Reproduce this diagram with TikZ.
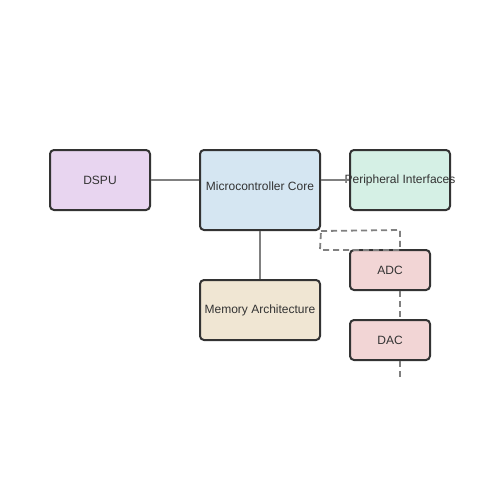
\documentclass[tikz,border=0pt]{standalone}
\usepackage{fontspec}
\setmainfont{Liberation Sans}
\begin{document}
\begin{tikzpicture}[x=1pt,y=-1pt,
  box/.style={draw=boxline,line width=2pt,rounded corners=4pt,inner sep=0pt,
    text=txt,font=\fontsize{12}{14}\selectfont},
  link/.style={draw=linkc,line width=1.8pt},
  dlink/.style={draw=linkc,line width=1.8pt,dash pattern=on 6pt off 4pt}]
\definecolor{boxline}{HTML}{333333}
\definecolor{txt}{HTML}{333333}
\definecolor{linkc}{HTML}{808080}
\definecolor{cdspu}{HTML}{E8D5F0}
\definecolor{ccore}{HTML}{D5E6F2}
\definecolor{cperi}{HTML}{D5F0E5}
\definecolor{cmem}{HTML}{F0E6D3}
\definecolor{cadc}{HTML}{F2D5D5}
\useasboundingbox[fill=white] (0,0) rectangle (500,500);
\coordinate (j1) at (400,230);
\coordinate (j2) at (320,250);
\coordinate (j3) at (400,250);
\coordinate (endp) at (400,380);
\node[box,fill=cdspu,minimum width=100pt,minimum height=60pt] (dspu) at (100,180) {DSPU};
\node[box,fill=ccore,minimum width=120pt,minimum height=80pt] (core) at (260,190) {};
\node[text=txt,font=\fontsize{12}{14}\selectfont,inner sep=0pt] (coretext) at (260,186) {Microcontroller Core};
\node[box,fill=cmem,minimum width=120pt,minimum height=60pt] (mem) at (260,310) {Memory Architecture};
\node[box,fill=cadc,minimum width=80pt,minimum height=40pt] (adc) at (390,270) {ADC};
\node[box,fill=cadc,minimum width=80pt,minimum height=40pt] (dac) at (390,340) {DAC};
\node[box,fill=cperi,minimum width=100pt,minimum height=60pt] (peri) at (400,180) {\makebox[0pt]{Peripheral Interfaces}};
\draw[link] (dspu.east) -- (dspu.east -| core.west);
\draw[link] (core.south) -- (mem.north);
\draw[link] (core.east |- peri.west) -- (peri.west);
\draw[dlink] (core.south east) -- (j1) -- (j3) -- (j2) -- cycle;
\draw[dlink] (j3 |- adc.south) -- (j3 |- dac.north);
\draw[dlink] (j3 |- dac.south) -- (endp);
\end{tikzpicture}
\end{document}
